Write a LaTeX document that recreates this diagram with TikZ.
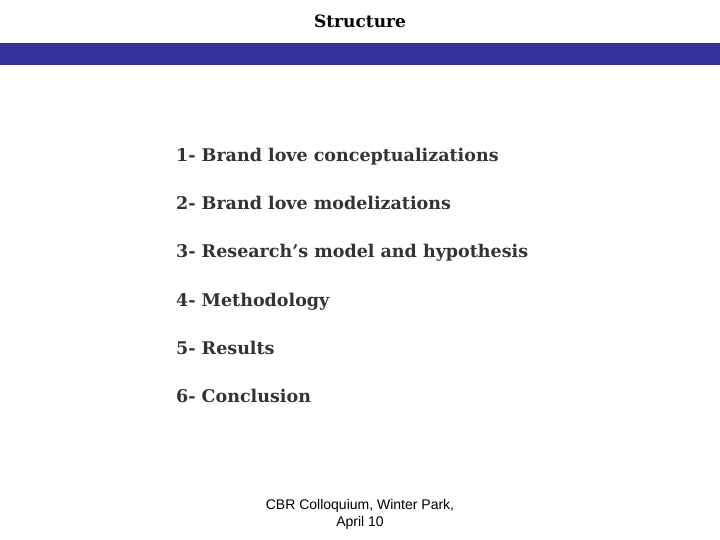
\documentclass[tikz,border=0pt]{standalone}
\usepackage{fontspec}
\setmainfont{DejaVu Serif}
\setsansfont{Liberation Sans}
\definecolor{barblue}{RGB}{51,51,153}
\begin{document}
\begin{tikzpicture}[x=1pt,y=-1pt,
  item/.style={anchor=base west,inner sep=0pt,font=\fontsize{17.5}{20}\selectfont\bfseries,text=black!80},
  foot/.style={anchor=base,inner sep=0pt,font=\sffamily\fontsize{14}{15}\selectfont}]
\useasboundingbox (0,0) rectangle (720,540);
\fill[barblue] (0,43) rectangle (720,65);
\node[anchor=base,inner sep=0pt,font=\fontsize{17}{18}\selectfont\bfseries] (title) at (360,28) {Structure};
\node[item] (i1) at (176,162) {1- Brand love conceptualizations};
\node[item] (i2) at (176,210) {2- Brand love modelizations};
\node[item] (i3) at (176,258) {3- Research’s model and hypothesis};
\node[item] (i4) at (176,306) {4- Methodology};
\node[item] (i5) at (176,354) {5- Results};
\node[item] (i6) at (176,402) {6- Conclusion};
\node[foot] (f1) at (360,509) {CBR Colloquium, Winter Park,};
\node[foot] (f2) at (360,526) {April 10};
\end{tikzpicture}
\end{document}
